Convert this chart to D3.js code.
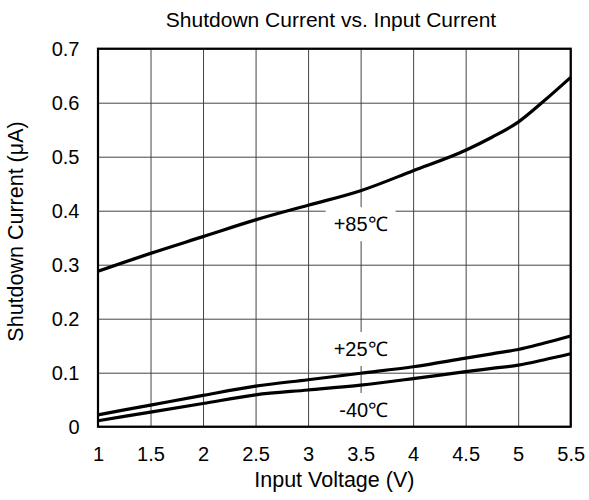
<!DOCTYPE html>
<html>
<head>
<meta charset="utf-8">
<script src="https://cdn.jsdelivr.net/npm/d3@7"></script>
<style>
  body { margin: 0; background: #fff; }
  text { font-family: "Liberation Sans", Arial, sans-serif; fill: #000; }
</style>
</head>
<body>
<svg id="chart"></svg>
<script>
// values
const voltage = [1, 1.5, 2, 2.5, 3, 3.5, 4, 4.5, 4.75, 5, 5.25, 5.5];
const current85 = [0.288, 0.321, 0.352, 0.383, 0.410, 0.437, 0.474, 0.512, 0.536, 0.564, 0.604, 0.647];
const current25 = [0.022, 0.040, 0.058, 0.075, 0.087, 0.099, 0.111, 0.127, 0.135, 0.143, 0.155, 0.168];
const currentM40 = [0.011, 0.027, 0.043, 0.059, 0.068, 0.077, 0.089, 0.102, 0.108, 0.114, 0.124, 0.135];

const xTicks = [1, 1.5, 2, 2.5, 3, 3.5, 4, 4.5, 5, 5.5];
const yTicks = [0, 0.1, 0.2, 0.3, 0.4, 0.5, 0.6, 0.7];

const labelText = ['+85℃', '+25℃', '-40℃'];
const labelV = [3.5, 3.5, 3.53];
const labelI = [0.375, 0.144, 0.031];

const config = {
  width: 589,
  height: 500,
  margin: {top: 48.7, right: 18.3, bottom: 73.3, left: 98}
};

const width = config.width - config.margin.left - config.margin.right;
const height = config.height - config.margin.top - config.margin.bottom;

const svg = d3.select('#chart')
    .attr('width', config.width)
    .attr('height', config.height);

const chart = svg.append('g')
    .attr('transform', `translate(${config.margin.left},${config.margin.top})`);

const xScale = d3.scaleLinear().domain([1, 5.5]).range([0, width]);
const yScale = d3.scaleLinear().domain([0, 0.7]).range([height, 0]);

// gridlines via axes, domain removed
const xAxis = d3.axisBottom(xScale)
    .tickValues(xTicks)
    .tickSize(-height)
    .tickPadding(34)
    .tickFormat(d => d);

const yAxis = d3.axisLeft(yScale)
    .tickValues(yTicks)
    .tickSize(-width)
    .tickPadding(18.5)
    .tickFormat(d => d);

chart.append('g')
    .attr('transform', `translate(0,${height})`)
    .call(xAxis)
    .call(g => g.select('.domain').remove())
    .call(g => g.selectAll('line').attr('stroke', '#444').attr('stroke-width', 1))
    .call(g => g.selectAll('text').attr('dy', '0').style('font-size', '20px').attr('font-family', null));

chart.append('g')
    .call(yAxis)
    .call(g => g.select('.domain').remove())
    .call(g => g.selectAll('line').attr('stroke', '#444').attr('stroke-width', 1))
    .call(g => g.selectAll('text').style('font-size', '20px').attr('font-family', null));

// white boxes behind labels hide the gridlines
chart.selectAll('.label-box')
  .data(labelText)
  .join('rect')
    .attr('class', 'label-box')
    .attr('x', (d, i) => xScale(labelV[i]) - 35)
    .attr('y', (d, i) => yScale(labelI[i]) - 17)
    .attr('width', 70)
    .attr('height', 34)
    .attr('fill', '#fff');

const series = [current85, current25, currentM40];

const line = d3.line()
    .x((d, i) => xScale(voltage[i]))
    .y(d => yScale(d))
    .curve(d3.curveMonotoneX);

chart.selectAll('.curve')
  .data(series)
  .join('path')
    .attr('class', 'curve')
    .attr('d', line)
    .attr('fill', 'none')
    .attr('stroke', '#000')
    .attr('stroke-width', 3.2);

chart.selectAll('.label')
  .data(labelText)
  .join('text')
    .attr('class', 'label')
    .attr('x', (d, i) => xScale(labelV[i]))
    .attr('y', (d, i) => yScale(labelI[i]))
    .attr('dy', '0.35em')
    .attr('text-anchor', 'middle')
    .style('font-size', '20px')
    .text(d => d);

// frame
chart.append('rect')
    .attr('width', width)
    .attr('height', height)
    .attr('fill', 'none')
    .attr('stroke', '#000')
    .attr('stroke-width', 2.2);

// titles
svg.append('text')
    .attr('x', 331)
    .attr('y', 26.5)
    .attr('text-anchor', 'middle')
    .style('font-size', '21px')
    .text('Shutdown Current vs. Input Current');

svg.append('text')
    .attr('x', config.margin.left + width / 2)
    .attr('y', 487)
    .attr('text-anchor', 'middle')
    .style('font-size', '21.5px')
    .text('Input Voltage (V)');

svg.append('text')
    .attr('transform', 'translate(23,231.5) rotate(-90)')
    .attr('text-anchor', 'middle')
    .style('font-size', '21.5px')
    .text('Shutdown Current (μA)');
</script>
</body>
</html>
